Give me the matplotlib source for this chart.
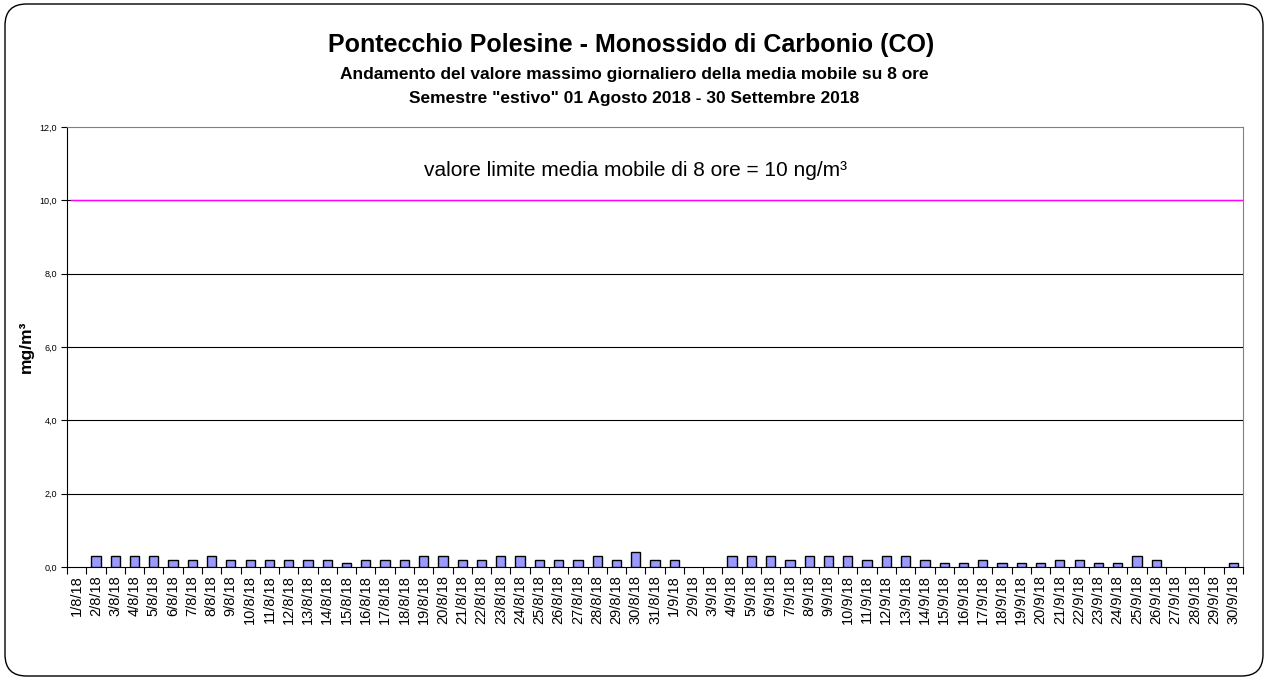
import matplotlib
matplotlib.use("Agg")
import matplotlib.pyplot as plt
from matplotlib.patches import FancyBboxPatch
import numpy as np

plt.rcParams['font.family'] = ['Liberation Sans', 'DejaVu Sans']

dates = ([f"{d}/8/18" for d in range(1, 32)] + [f"{d}/9/18" for d in range(1, 31)])
values = [np.nan, 0.3, 0.3, 0.3, 0.3, 0.2, 0.2, 0.3, 0.2, 0.2,
          0.2, 0.2, 0.2, 0.2, 0.1, 0.2, 0.2, 0.2, 0.3, 0.3,
          0.2, 0.2, 0.3, 0.3, 0.2, 0.2, 0.2, 0.3, 0.2, 0.4,
          0.2,
          0.2, np.nan, np.nan, 0.3, 0.3, 0.3, 0.2, 0.3, 0.3, 0.3,
          0.2, 0.3, 0.3, 0.2, 0.1, 0.1, 0.2, 0.1, 0.1, 0.1,
          0.2, 0.2, 0.1, 0.1, 0.3, 0.2, np.nan, np.nan, np.nan, 0.1]
limit = 10.0
yticks = [0, 2, 4, 6, 8, 10, 12]
ytick_labels = ["0,0", "2,0", "4,0", "6,0", "8,0", "10,0", "12,0"]

W, H = 1265, 679
fig = plt.figure(figsize=(W / 100, H / 100), dpi=100)
fig.patch.set_facecolor('white')

frame = FancyBboxPatch((5 / W, 3 / H), 1258 / W, 672 / H,
                       boxstyle="round,pad=0,rounding_size=0.017",
                       transform=fig.transFigure, facecolor='none',
                       edgecolor='black', linewidth=1.0, mutation_aspect=W / H)
fig.patches.append(frame)

ax = fig.add_axes([67 / W, 1 - 567 / H, (1243 - 67) / W, (567 - 127) / H])
x = np.arange(len(dates))
ax.bar(x, values, width=0.48, color='#9999ff', edgecolor='black', linewidth=1.0, zorder=3)
ax.plot([-0.3, len(dates) - 0.5], [limit, limit], color='#ff00ff', linewidth=1.0, zorder=4)

ax.set_xlim(-0.5, len(dates) - 0.5)
ax.set_ylim(0, 12)
ax.set_yticks(yticks)
ax.set_yticklabels(ytick_labels, fontsize=6.5)
for y in yticks[1:-1]:
    ax.axhline(y, color='black', linewidth=0.8, zorder=1)

ax.set_xticks(x)
ax.set_xticklabels(dates, rotation=90, fontsize=10.5)
ax.set_xticks(np.arange(-0.5, len(dates), 1), minor=True)
ax.tick_params(axis='x', which='major', length=0, pad=6)
ax.tick_params(axis='x', which='minor', length=5, direction='out', width=0.8)
ax.tick_params(axis='y', length=4, direction='out', width=0.8, pad=3)

ax.spines['top'].set_color('#808080')
ax.spines['right'].set_color('#808080')
ax.spines['left'].set_color('black')
ax.spines['bottom'].set_color('black')

ax.set_ylabel("mg/m³", fontsize=12.5, fontweight='bold', labelpad=4)

fig.text(631 / W, 1 - 45 / H, "Pontecchio Polesine - Monossido di Carbonio (CO)",
         ha='center', va='center', fontsize=18, fontweight='bold')
fig.text(634 / W, 1 - 75 / H, "Andamento del valore massimo giornaliero della media mobile su 8 ore",
         ha='center', va='center', fontsize=12.5, fontweight='bold')
fig.text(634 / W, 1 - 99 / H, "Semestre \"estivo\" 01 Agosto 2018 - 30 Settembre 2018",
         ha='center', va='center', fontsize=12.5, fontweight='bold')
fig.text(636 / W, 1 - 170 / H, "valore limite media mobile di 8 ore = 10 ng/m³",
         ha='center', va='center', fontsize=15)

fig.savefig("out.png", dpi=100)
